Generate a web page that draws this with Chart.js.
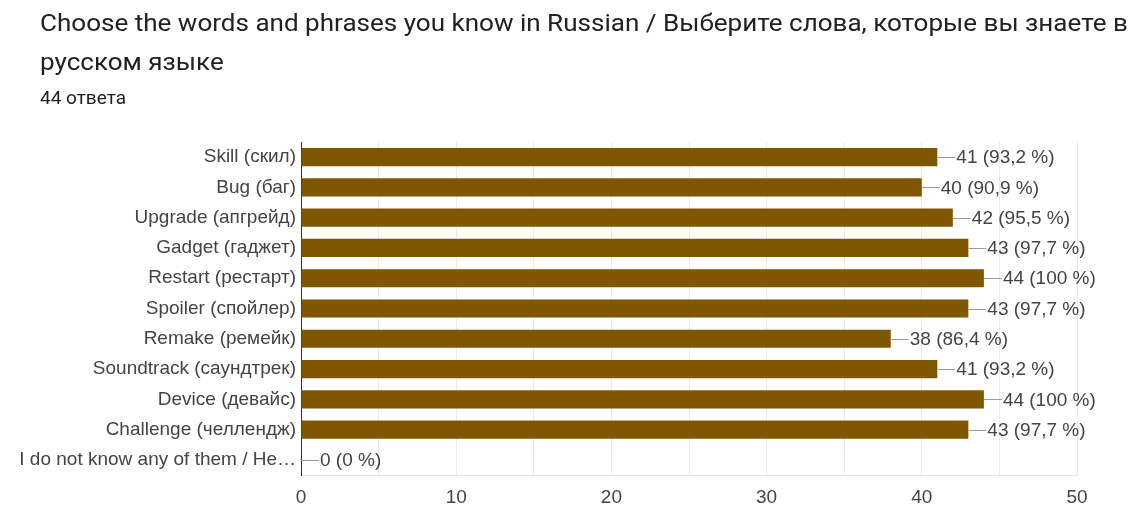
<!DOCTYPE html>
<html>
<head>
<meta charset="utf-8">
<script src="https://cdn.jsdelivr.net/npm/chart.js@4"></script>
<style>
  html, body { margin: 0; padding: 0; background: #fff; }
  #wrap { position: relative; width: 1136px; height: 506px; font-family: Roboto, sans-serif; }
  #title { position: absolute; left: 40px; top: 4px; font-size: 24px; line-height: 39px; color: #202124; white-space: nowrap; transform: scaleX(1.085); transform-origin: left top; }
  #sub { position: absolute; left: 40px; top: 86px; font-size: 19px; color: #202124; }
  canvas { position: absolute; left: 0; top: 0; }
</style>
</head>
<body>
<div id="wrap">
  <canvas id="chart" width="1136" height="506"></canvas>
  <div id="title">Choose the words and phrases you know in Russian / Выберите слова, которые вы знаете в<br>русском языке</div>
  <div id="sub">44 ответа</div>
</div>
<script>
const categories = [
    'Skill (скил)',
    'Bug (баг)',
    'Upgrade (апгрейд)',
    'Gadget (гаджет)',
    'Restart (рестарт)',
    'Spoiler (спойлер)',
    'Remake (ремейк)',
    'Soundtrack (саундтрек)',
    'Device (девайс)',
    'Challenge (челлендж)',
    'I do not know any of them / Не…'
];
const counts = [41, 40, 42, 43, 44, 43, 38, 41, 44, 43, 0];
const totalAnswers = 44;
const xTicks = [0, 10, 20, 30, 40, 50];

const labelFont = '"Liberation Sans", Arial, sans-serif';

function pctLabel(v) {
    const p = Math.round(v / totalAnswers * 1000) / 10;
    const s = Number.isInteger(p) ? String(p) : p.toFixed(1).replace('.', ',');
    return v + ' (' + s + ' %)';
}

// value labels with a short leader line at the end of each bar
const barLabels = {
    id: 'barLabels',
    afterDatasetsDraw(chart) {
        const ctx = chart.ctx;
        const meta = chart.getDatasetMeta(0);
        ctx.save();
        ctx.font = '19px ' + labelFont;
        ctx.textBaseline = 'middle';
        ctx.textAlign = 'left';
        meta.data.forEach((bar, i) => {
            const x = bar.x, y = bar.y;
            ctx.strokeStyle = '#9a9a9a';
            ctx.lineWidth = 1;
            ctx.beginPath();
            ctx.moveTo(x, Math.round(y) + 0.5);
            ctx.lineTo(x + 18, Math.round(y) + 0.5);
            ctx.stroke();
            ctx.fillStyle = '#444';
            ctx.fillText(pctLabel(counts[i]), x + 19, y + 1);
        });
        ctx.restore();
    }
};

new Chart(document.getElementById('chart'), {
    type: 'bar',
    data: {
        labels: categories,
        datasets: [{
            data: counts,
            backgroundColor: '#7f5700',
            barPercentage: 0.6,
            categoryPercentage: 1
        }]
    },
    options: {
        indexAxis: 'y',
        responsive: false,
        animation: false,
        layout: { padding: { top: 142, right: 59, bottom: 0, left: 0 } },
        plugins: { legend: { display: false }, tooltip: { enabled: false } },
        scales: {
            x: {
                min: 0, max: 50,
                afterBuildTicks(axis) {
                    axis.ticks = [0, 5, 10, 15, 20, 25, 30, 35, 40, 45, 50].map(v => ({ value: v }));
                },
                afterFit(axis) { axis.height = 31; },
                grid: {
                    drawTicks: false,
                    color: c => c.tick && c.tick.value === 0 ? 'rgba(0,0,0,0)' : '#ebebeb'
                },
                border: { color: '#e3e3e3' },
                ticks: {
                    padding: 11,
                    color: '#444',
                    font: { family: labelFont, size: 19 },
                    callback: v => xTicks.includes(v) ? String(v) : ''
                }
            },
            y: {
                grid: { display: false, drawTicks: false },
                border: { color: '#333', width: 1 },
                afterFit(axis) { axis.width = 301; },
                ticks: {
                    padding: 5,
                    color: '#444',
                    font: { family: labelFont, size: 19 }
                }
            }
        }
    },
    plugins: [barLabels]
});
</script>
</body>
</html>
